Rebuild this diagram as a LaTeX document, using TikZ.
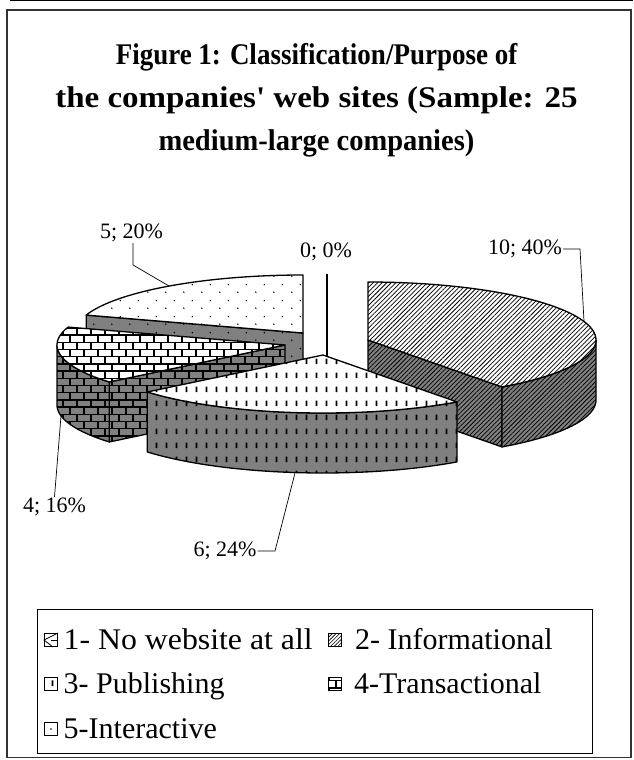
\documentclass[tikz,border=0pt]{standalone}
\usepackage{fontspec}
\setmainfont{Liberation Serif}[Ligatures=TeXOff]
\usetikzlibrary{patterns,patterns.meta}

% fill patterns of the chart
\pgfdeclarepatternformonly{brickrows}{\pgfqpoint{-1pt}{-1pt}}{\pgfqpoint{15pt}{15.4pt}}{\pgfqpoint{14pt}{14.4pt}}{%
  \pgfsetlinewidth{1.4pt}%
  \pgfpathmoveto{\pgfqpoint{-1pt}{0pt}}\pgfpathlineto{\pgfqpoint{15pt}{0pt}}%
  \pgfpathmoveto{\pgfqpoint{-1pt}{7.2pt}}\pgfpathlineto{\pgfqpoint{15pt}{7.2pt}}%
  \pgfpathmoveto{\pgfqpoint{0pt}{0pt}}\pgfpathlineto{\pgfqpoint{0pt}{7.2pt}}%
  \pgfpathmoveto{\pgfqpoint{7pt}{7.2pt}}\pgfpathlineto{\pgfqpoint{7pt}{14.4pt}}%
  \pgfusepath{stroke}}
\pgfdeclarepatternformonly{vdashes}{\pgfpointorigin}{\pgfqpoint{9.5pt}{14pt}}{\pgfqpoint{9.5pt}{14pt}}{%
  \pgfpathrectangle{\pgfqpoint{3.8pt}{4pt}}{\pgfqpoint{1.8pt}{6pt}}\pgfusepath{fill}}
\pgfdeclarepatternformonly{sparsedots}{\pgfpointorigin}{\pgfqpoint{18pt}{16pt}}{\pgfqpoint{18pt}{16pt}}{%
  \pgfpathcircle{\pgfqpoint{4pt}{4pt}}{0.85pt}\pgfpathcircle{\pgfqpoint{13pt}{12pt}}{0.85pt}\pgfusepath{fill}}

\definecolor{sidegray}{RGB}{128,128,128}

% ellipse radii and depth of the 3D pie
\def\pieA{228}
\def\pieB{58}
\def\pieH{60}

% curved outer wall of a slice between two angles (clockwise from 12 o'clock)
\newcommand\slicewall[5]{%
  \path[#5] plot[domain=#3:#4,samples=40] ({#1+\pieA*sin(\x)},{#2-\pieB*cos(\x)})
    -- plot[domain=#4:#3,samples=40] ({#1+\pieA*sin(\x)},{#2+\pieH-\pieB*cos(\x)}) -- cycle;}
% radial cut face of a slice
\newcommand\slicecut[4]{%
  \path[#4] (#1,#2) -- ({#1+\pieA*sin(#3)},{#2-\pieB*cos(#3)})
    -- ({#1+\pieA*sin(#3)},{#2+\pieH-\pieB*cos(#3)}) -- (#1,{#2+\pieH}) -- cycle;}
% top face of a slice
\newcommand\slicetop[5]{%
  \path[#5] (#1,#2) -- plot[domain=#3:#4,samples=50] ({#1+\pieA*sin(\x)},{#2-\pieB*cos(\x)}) -- cycle;}

\tikzset{
  edge/.style={draw=black, line width=1.3pt, line join=round},
  hatchtop/.style={edge, preaction={fill=white}, pattern={Lines[angle=45,distance=3.2pt,line width=0.75pt]}, pattern color=black},
  hatchside/.style={edge, preaction={fill=sidegray}, pattern={Lines[angle=45,distance=3.2pt,line width=0.75pt]}, pattern color=black},
  dashtop/.style={edge, preaction={fill=white}, pattern=vdashes, pattern color=black},
  dashside/.style={edge, preaction={fill=sidegray}, pattern=vdashes, pattern color=black},
  bricktop/.style={edge, preaction={fill=white}, pattern=brickrows, pattern color=black},
  brickside/.style={edge, preaction={fill=sidegray}, pattern=brickrows, pattern color=black},
  dottop/.style={edge, preaction={fill=white}, pattern=sparsedots, pattern color=black},
  dotside/.style={edge, preaction={fill=sidegray}, pattern=sparsedots, pattern color=black},
  lbl/.style={inner sep=1pt, font=\fontsize{22}{26}\selectfont},
  leader/.style={draw=black, line width=0.7pt},
  legtext/.style={anchor=base west, inner sep=0pt, font=\fontsize{30}{34}\selectfont},
  keybox/.style={draw=black, line width=1pt, minimum size=13pt, inner sep=0pt},
}

\begin{document}
\begin{tikzpicture}[x=1pt,y=-1pt]
\useasboundingbox (0,0) rectangle (633,760);
\fill[white] (0,0) rectangle (633,760);

% page rule and chart frame
\draw[line width=1pt] (10,0.5) -- (633,0.5);
\draw[line width=1.6pt, black!80] (6.8,9.8) rectangle (630.7,757.5);

% title
\node[align=center, font=\fontsize{30}{43}\selectfont\bfseries] (title) at (316.5,100)
  {\scalebox{0.9}[1]{Figure 1: Classification/Purpose of}\\
   \scalebox{1.1}[1]{the companies' web sites (Sample: 25}\\
   \scalebox{0.95}[1]{medium-large companies)}};

% 5-Interactive (288..360)
\slicecut{303}{333}{288}{dotside}
\slicetop{303}{333}{288}{360}{dottop}

% 1- No website at all: zero-width slice
\draw[line width=1.6pt] (327,274) -- (327,392);

% 4-Transactional (230.4..288)
\slicecut{285}{345}{230.4}{brickside}
\slicewall{285}{345}{230.4}{270}{brickside}
\slicetop{285}{345}{230.4}{288}{bricktop}

% 2- Informational (0..144)
\slicecut{368}{340}{144}{hatchside}
\slicewall{368}{340}{90}{144}{hatchside}
\slicetop{368}{340}{0}{144}{hatchtop}

% 3- Publishing (144..230.4)
\slicewall{323}{355}{144}{230.4}{dashside}
\slicetop{323}{355}{144}{230.4}{dashtop}

% data labels and leader lines
\node[lbl] (l5) at (131.5,233) {5; 20\%};
\node[lbl] (l0) at (326,252) {0; 0\%};
\node[lbl] (l10) at (525,249) {10; 40\%};
\node[lbl] (l4) at (54.5,507) {4; 16\%};
\node[lbl] (l6) at (225,551) {6; 24\%};

\coordinate (b5) at (133,265);
\coordinate (t5) at (169,286);
\draw[leader] (l5.south -| b5) -- (b5) -- (t5);

\coordinate (b10) at (580,249);
\coordinate (t10) at (584,321);
\draw[leader] (l10.east) -- (b10) -- (t10);

\coordinate (t4) at (61,416);
\draw[leader] (l4.north) -- (t4);

\coordinate (b6) at (275,551);
\coordinate (t6) at (295,473);
\draw[leader] (l6.east) -- (b6) -- (t6);

% legend
\draw[line width=0.9pt] (37,609) rectangle (592,753);

\node[keybox, fill=white] (k1) at (51,640) {};
\draw[line width=0.8pt] (k1.north east) -- (k1.west) -- ([xshift=2pt]k1.south);
\draw[line width=0.8pt] (k1.center) -- (k1.east);
\node[legtext] (t1) at (63.5,649) {\scalebox{1.06}[1]{1- No website at all}};

\node[keybox, preaction={fill=white}, pattern={Lines[angle=45,distance=2.6pt,line width=0.6pt]}, pattern color=black] (k2) at (335,640) {};
\node[legtext] (t2) at (355,649) {2- Informational};

\node[keybox, preaction={fill=white}, pattern=vdashes, pattern color=black] (k3) at (51,684) {};
\node[legtext] (t3) at (63.5,693) {3- Publishing};

\node[keybox, preaction={fill=white}, pattern=brickrows, pattern color=black] (k4) at (335,684) {};
\node[legtext] (tt4) at (354,693) {4-Transactional};

\node[keybox, fill=white] (k5) at (51,729) {};
\fill (k5.center) circle (0.9pt);
\node[legtext] (tt5) at (63.5,738) {5-Interactive};
\end{tikzpicture}
\end{document}
